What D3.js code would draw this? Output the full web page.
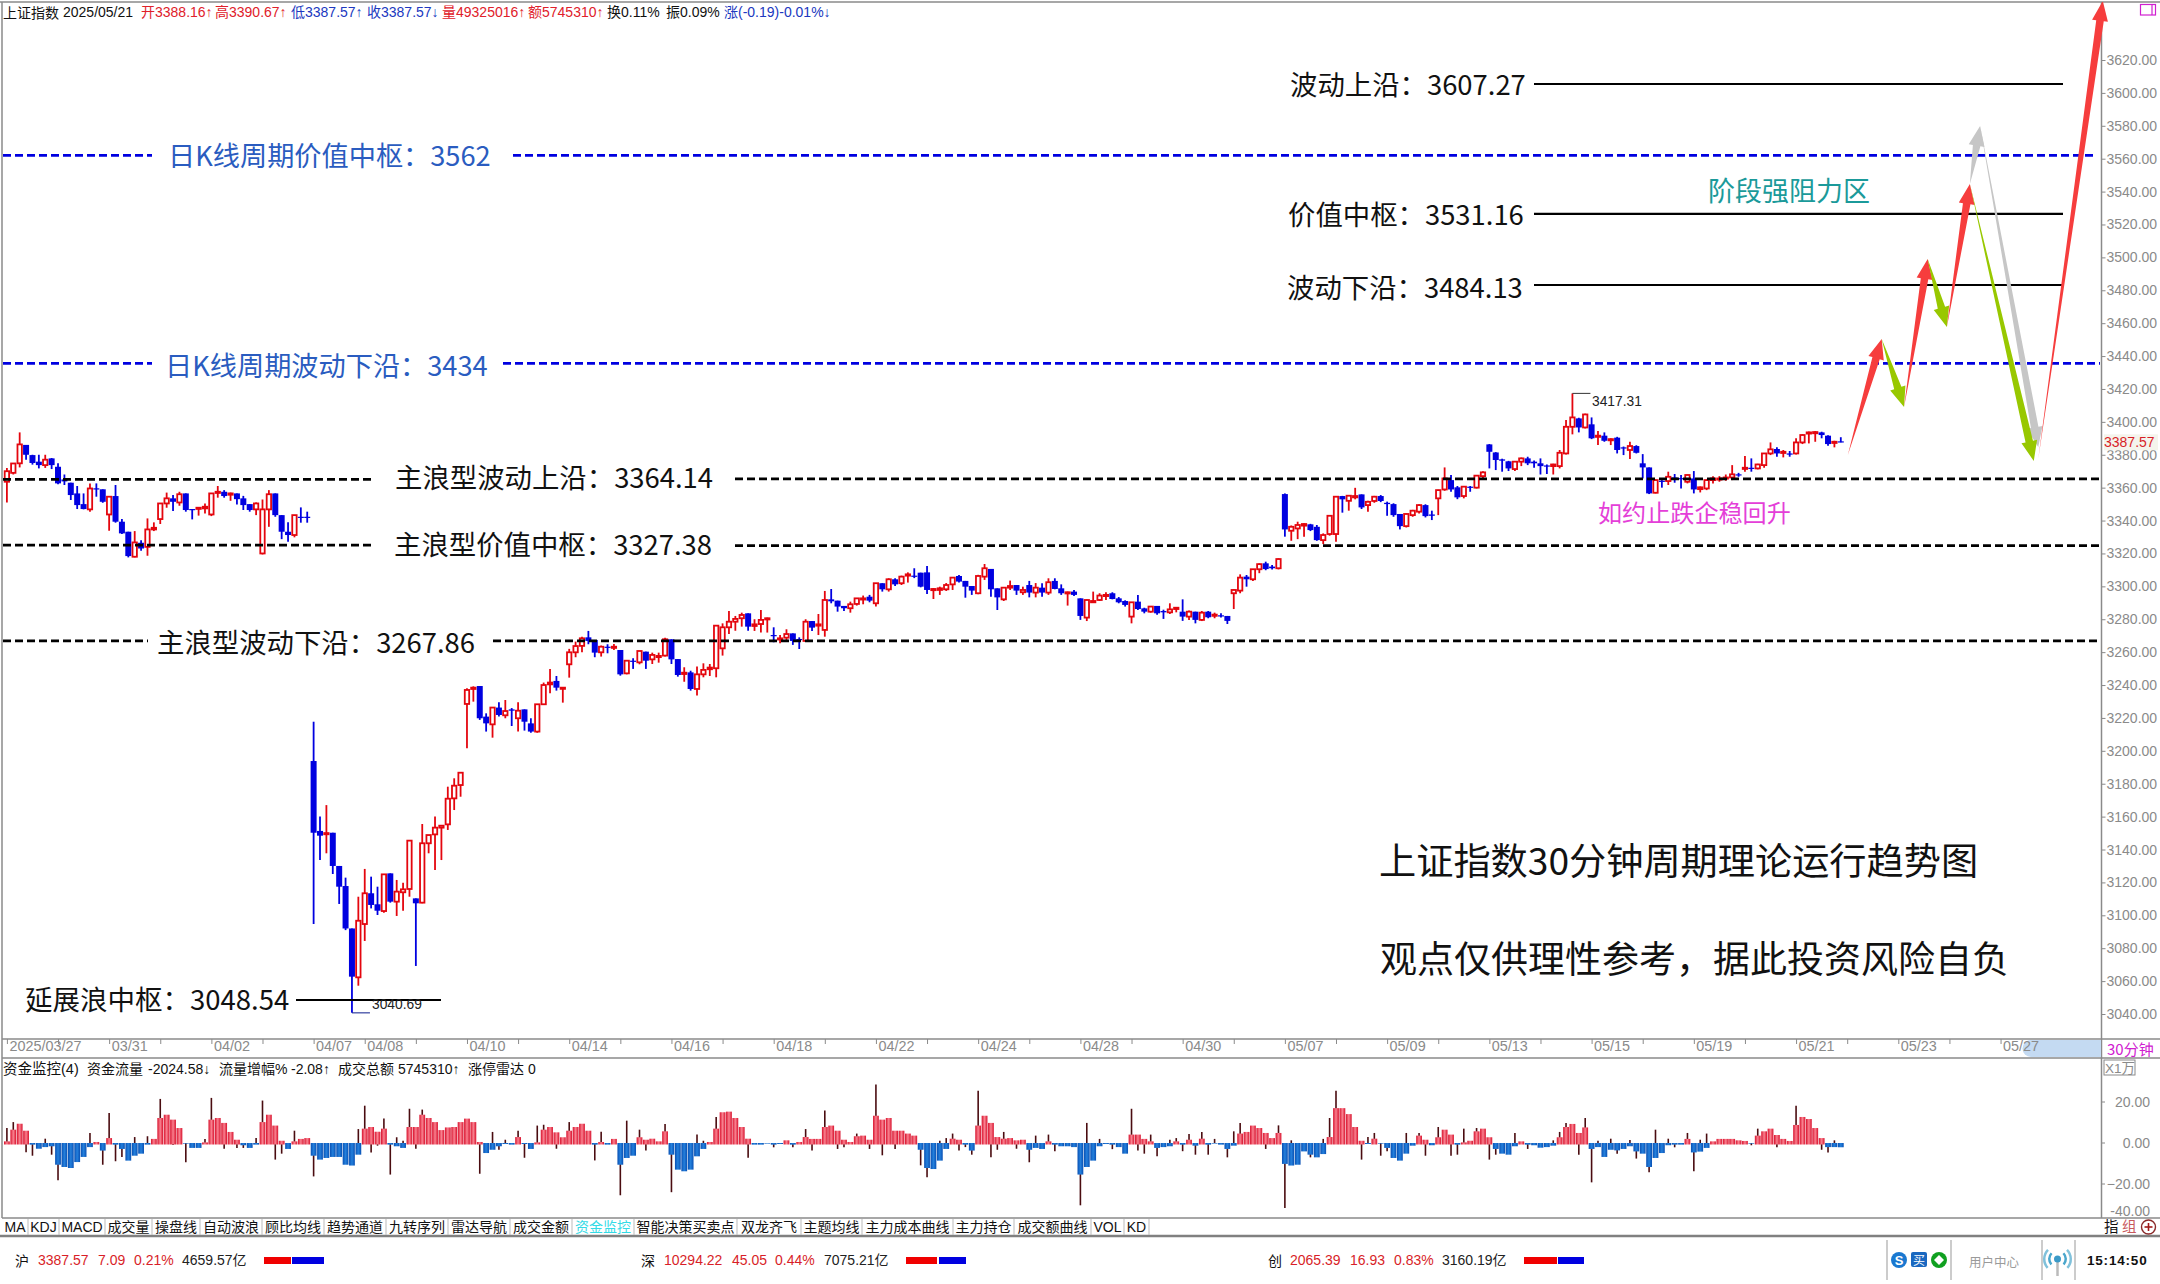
<!DOCTYPE html>
<html lang="zh">
<head>
<meta charset="UTF-8">
<title>上证指数30分钟周期理论运行趋势图</title>
<script src="https://d3js.org/d3.v7.min.js"></script>
<style>
    html, body { margin: 0; height: 100%; overflow: hidden; background: #fff; }
    text { font-family: "Liberation Sans", "Noto Sans CJK SC", sans-serif; }
    .cjk { font-family: "Noto Sans CJK SC", sans-serif; }
</style>
</head>
<body>
<svg id="svg"></svg>
<script>
// one 30 minute bar per entry, 8 bars per trading day
const opens = [
    3363.6,3369,3374.8,3386,3379.8,3375.8,3373.7,3377.8,3372.7,3365,
    3363,3356.5,3350,3346.8,3359.6,3359,3343.7,3354.9,3339.3,3333.2,
    3318,3326.5,3324,3334.6,3340.9,3350.4,3353.5,3351,3356.5,3347,
    3347.2,3347.4,3343.7,3357,3357.5,3355.7,3356.5,3353.5,3350,3346.8,
    3320,3346.8,3356.5,3343.3,3333.2,3331.2,3342.3,3342.3,3193.8,3151.3,
    3149.5,3150.2,3130,3117.8,3092,3062.3,3094.7,3113.4,3106.7,3102.6,
    3125.5,3108.3,3114,3116,3110.3,3107.7,3143.8,3149.2,3153.3,3155.3,
    3171.1,3179.2,3228.5,3237.6,3239.4,3220.8,3216.1,3226.3,3221.6,3225.2,
    3219.8,3225.2,3216.7,3211.7,3228.3,3240.4,3242.5,3238,3252.6,3259.9,
    3263.8,3269,3267.4,3259.9,3263.3,3262.7,3261.3,3247.1,3254.8,3253.8,
    3260.3,3255.6,3257.3,3257.9,3267.8,3255.8,3246.7,3247.7,3237.6,3246.5,
    3249.6,3250.2,3262.3,3275.1,3278.5,3280.6,3283.6,3275.9,3277.1,3280.2,
    3270.4,3267.8,3268.8,3271.4,3268,3266.8,3278.9,3276.1,3273.5,3292.1,
    3291.3,3288.1,3286.7,3289.3,3292.1,3293.7,3289.7,3301.9,3298.2,3304.3,
    3301.9,3306.5,3306.5,3308.3,3308.5,3297.8,3297.8,3298.2,3301.2,3306.3,
    3303.3,3300.2,3295.8,3305.9,3310.6,3298.8,3292.1,3299.2,3300.8,3296.4,
    3300.8,3296.2,3299.2,3296.2,3303.3,3298.8,3296,3296.8,3292.7,3281,
    3290.3,3291.7,3294.2,3295.8,3292.7,3291.1,3281.6,3290.7,3286.6,3284.6,
    3288.1,3285,3284.2,3286.2,3284.6,3281.6,3284.6,3279.6,3284.6,3282.2,
    3282.4,3282,3295.8,3297.4,3305.9,3304.3,3310.4,3314,3312,3311,
    3356.1,3333.8,3335.2,3336.9,3337.7,3336.2,3328.1,3331.8,3331.8,3354.9,
    3352,3354.1,3355.9,3349.4,3351.9,3354.9,3350.8,3350,3344,3336.6,
    3343.3,3345.4,3349.4,3343.7,3353.5,3358.9,3364.6,3360.2,3354.9,3360.6,
    3360,3367,3386.3,3381.4,3377.2,3376,3371.3,3375.8,3377.8,3375.8,
    3374.8,3373.5,3373.1,3373.1,3380.8,3397,3402.1,3396.6,3398.5,3391,
    3391.6,3388.9,3390.4,3384.5,3382.9,3385.3,3374.8,3372.3,3356.9,3364.2,
    3364,3366.2,3365.8,3363.6,3365.6,3359.1,3359.5,3364.6,3365.2,3365.6,
    3366.2,3368.1,3371.5,3372.1,3371.7,3373.7,3380.8,3383.5,3381.4,3380.8,
    3380.8,3387.5,3393,3393.4,3393.6,3391.6,3387.3,3388.16
];
const highs = [
    3372,3375,3393.6,3386,3380,3380,3380,3378,3374.8,3368,
    3363,3361,3356.5,3362.6,3362.6,3359,3354.5,3361.6,3340.9,3333.2,
    3333.6,3328,3341.3,3338.9,3350.4,3357,3355.5,3357.5,3356.5,3347,
    3348,3350.4,3356.5,3361,3358.5,3357,3356.5,3355,3350,3351,
    3352.8,3358.5,3356.5,3343.3,3338.9,3343.3,3348,3345.4,3217.7,3160,
    3167,3150.2,3130,3122.9,3092,3111.3,3128.2,3123.5,3117.4,3124.9,
    3125.5,3121.5,3119.8,3145.4,3110.3,3155.5,3148.8,3160,3154.5,3178.2,
    3183.3,3186.7,3238,3239.2,3239.4,3222.8,3226.3,3229.5,3230.9,3226,
    3229.5,3225.2,3219.8,3228.3,3241.5,3249.8,3245.5,3238.6,3262,3266.4,
    3269.4,3272.9,3267.4,3264,3264.8,3265,3261.3,3254.8,3256.3,3260.7,
    3260.3,3259.7,3259.7,3268.8,3267.8,3255.8,3250.8,3248.7,3251.2,3253.2,
    3252.8,3276.1,3277.5,3285,3282,3284,3283.6,3280,3285.6,3281,
    3275.1,3270.4,3273.9,3271.4,3269,3280,3278.9,3283.2,3297.2,3298.4,
    3291.3,3288.1,3290.7,3292.7,3294.4,3294.8,3301.9,3301.9,3304.9,3304.9,
    3306.5,3308.5,3311,3308.3,3312.4,3299,3299.8,3302,3305.3,3306.9,
    3303.3,3300.2,3307,3313.6,3310.6,3298.8,3299.2,3303.5,3300.8,3299.8,
    3303.3,3302,3301.9,3304.9,3304.9,3301.2,3296.8,3297.8,3292.7,3292,
    3296.8,3295.8,3296.4,3296.4,3293.5,3291.5,3290.3,3294.8,3287,3288,
    3288.1,3285.8,3289.7,3287.3,3292.1,3285.3,3284.6,3285,3285,3284,
    3283.6,3282,3298.2,3307.3,3306.9,3310.6,3314,3315,3313,3317,
    3356.5,3337,3339.3,3338.3,3338,3337.3,3332.2,3342.9,3354.5,3355,
    3355.5,3359.9,3355.9,3352,3355,3355.5,3351.5,3350.5,3344,3344.3,
    3346.5,3349.9,3349.9,3346,3358.7,3372.3,3367.7,3361,3361,3361,
    3367.6,3370,3386.5,3381.6,3377.6,3376.3,3376.2,3378.3,3378.8,3376.5,
    3377.8,3374.1,3374.5,3382.9,3401.1,3417.31,3402.5,3405,3402.7,3394.4,
    3393.6,3390,3390.9,3385,3387.9,3385.8,3380.4,3372.3,3365,3364.6,
    3369.7,3368.3,3367.7,3368,3370.1,3360.7,3365,3367,3367,3368,
    3373.7,3369,3379.2,3377.8,3374.5,3381,3387.5,3384.5,3382.9,3382.3,
    3390,3392.5,3394.1,3394.4,3394,3391.9,3388.5,3390.67
];
const lows = [
    3351,3368,3372.3,3377,3374,3371.7,3372,3371.3,3362,3361.6,
    3352.5,3347,3346.8,3345.4,3354.5,3350.8,3333.8,3338.7,3331.8,3317.6,
    3317.6,3321.6,3318.6,3333.6,3337.9,3347.8,3345.8,3349,3345.4,3340.7,
    3343,3344.3,3342.7,3353.9,3353.9,3352,3349.8,3346.4,3345.4,3343.3,
    3319.4,3336.2,3342.3,3328.7,3327.1,3329.8,3338.7,3338.7,3094.7,3133.6,
    3137.7,3125.1,3106.9,3091,3040.69,3057.2,3084.4,3104.2,3100.2,3101.6,
    3107.7,3099.6,3102.8,3111.3,3069.2,3107.3,3137.7,3127.6,3133.6,3151.9,
    3164,3172.1,3201.5,3229.9,3218.8,3211.7,3208,3220.8,3219.8,3215.1,
    3211.7,3212.3,3211,3211,3227.9,3235,3236.6,3229.3,3244.5,3256.9,
    3259.9,3264.8,3256.9,3257.3,3259.3,3261.3,3245.7,3246.5,3249.8,3252.6,
    3249.8,3252.8,3253.6,3257.3,3252.8,3245.1,3242,3236.6,3233.6,3244.7,
    3245.5,3244.7,3257.9,3271,3273,3275.5,3273,3272.9,3271.9,3271.9,
    3266,3265.4,3267.4,3264.4,3261.9,3266.4,3272.9,3270.4,3269.4,3289.7,
    3284.6,3285,3284,3288.3,3289.1,3290.3,3287.7,3296.8,3296.8,3300.2,
    3300.8,3302.3,3305,3299.4,3295.4,3292.3,3294.8,3297.2,3297.8,3302.3,
    3293.1,3294.8,3295.2,3303.9,3293.7,3285.6,3291.1,3297.8,3294.8,3294.8,
    3293.3,3293.3,3293.7,3294.8,3298.2,3294.8,3288.3,3294.2,3279.6,3278.9,
    3290.3,3291.1,3291.7,3292.1,3289.7,3287.7,3277.5,3285.6,3283.6,3284,
    3282.8,3280.2,3283.2,3284.2,3279,3279.6,3277.5,3278.9,3280.6,3280.6,
    3281,3277.1,3286.2,3295.8,3299.8,3303.3,3308,3309.8,3310.3,3310.3,
    3330.2,3327.7,3328.7,3330.2,3333.6,3327.7,3325.7,3330.8,3327.1,3344.8,
    3346,3352.9,3347,3345.4,3350.8,3351.2,3342.9,3342.3,3334.6,3335.8,
    3342.3,3344.3,3341.9,3340.3,3343.3,3358.1,3357.5,3353,3353.5,3357.5,
    3359.5,3364.6,3371.7,3370.7,3369.7,3370.1,3370.1,3373.1,3373.7,3372.1,
    3368,3368.3,3368,3371.7,3380.2,3392.4,3393.6,3396,3389.5,3385.9,
    3387.9,3385.9,3380.8,3379.8,3377.4,3380.8,3365.6,3356.1,3356.5,3360,
    3361.6,3363,3359.5,3362.6,3356.5,3357.1,3358.5,3362.6,3363.6,3364.2,
    3364.6,3366.6,3369.7,3369.7,3371.1,3372.1,3379.8,3378.8,3378.4,3378.8,
    3380.2,3386.5,3386.9,3387.9,3390,3385.5,3384.5,3387.57
];
const closes = [
    3370,3374.7,3386.3,3380,3375,3373.7,3377,3373.7,3362.6,3363.8,
    3355.5,3349.4,3347,3359.5,3359,3351.4,3354.5,3339.3,3332.2,3318.4,
    3326.7,3323,3334.6,3335.6,3350.4,3353.5,3351.4,3356,3346.4,3346.6,
    3347.8,3348.4,3356.5,3357.5,3354.9,3356.5,3353,3349.4,3346.4,3350.4,
    3346.8,3356,3343.3,3333.2,3331.2,3343.3,3341.9,3341.9,3150.2,3148.4,
    3150,3130,3117.4,3092,3062.7,3096.7,3113.4,3106.3,3102.8,3124.9,
    3108.3,3114.4,3115.8,3145.4,3107.3,3143.8,3148.8,3153.3,3154.5,3170.9,
    3178.8,3186.7,3237,3238.4,3219.8,3216.7,3226.3,3221.8,3224.2,3224.4,
    3224.4,3217.7,3211.7,3228.3,3240,3241.5,3238.4,3238.4,3259.9,3263.7,
    3268.4,3266.8,3259.7,3263.3,3262.7,3263.3,3246.5,3254.8,3254.2,3260.7,
    3254.8,3258.3,3257.7,3267.8,3255.6,3246.1,3247.5,3237.6,3246.5,3249.2,
    3250.6,3276.1,3275.1,3278.5,3280.2,3282.6,3275.5,3276.9,3279.6,3280.6,
    3270,3268.4,3271,3266.8,3267.4,3278.5,3274.9,3276.9,3291.7,3290.9,
    3287.7,3286.7,3289.1,3292.7,3292.7,3291.3,3301.9,3298.2,3304.3,3301.2,
    3305.9,3307.3,3305.9,3299.8,3297.8,3298.4,3298.8,3300.8,3305.3,3302.9,
    3299.8,3297.4,3306.3,3311,3298.2,3293.3,3299.2,3300.2,3297.4,3297.8,
    3296.2,3299.2,3296.2,3302.5,3298.4,3295.8,3296.4,3294.8,3282,3291.7,
    3291.1,3294.4,3294.8,3292.3,3290.3,3288.7,3290.3,3286.2,3284.6,3287.7,
    3283.6,3284.2,3286,3287,3281.6,3284.6,3279.6,3284,3281.2,3282.8,
    3282,3279,3297.8,3305.3,3304.3,3310.4,3313.5,3310.5,3311,3316.6,
    3334.6,3336.2,3337.3,3337.9,3334.2,3328.1,3331.2,3342.9,3354.5,3352.9,
    3355.1,3354.9,3348,3351.4,3354.5,3351.9,3350,3343.3,3336.6,3344,
    3346,3349.4,3342.7,3342.9,3358.5,3365.6,3358.9,3354.1,3360.6,3360.2,
    3367.3,3369.3,3381.8,3376.8,3376.4,3371.7,3375.8,3377.8,3374.8,3374.8,
    3373.1,3373.1,3374.1,3381.2,3397,3402.7,3396.6,3404.5,3390,3391.6,
    3388.5,3389.5,3382.9,3383.9,3385.3,3381.2,3372.3,3356.5,3364.6,3363.6,
    3366.6,3365.6,3365.4,3367.7,3358.9,3360.2,3364.6,3365.6,3365.6,3366.2,
    3368.1,3367.7,3372.1,3371.5,3374.1,3380.8,3383.3,3380.8,3381.8,3380.2,
    3387.5,3392,3393.6,3393.8,3392,3386.5,3387.9,3387.57
];
// money flow panel, unit 1万
const flowBars = [
    .8,6.5,9.4,6,-.8,-2.8,-2,-1.6,-10.6,-11.7,
    -12.2,-9.3,-6.8,-2,.5,-3.7,2.4,-.8,-2.9,-8.6,
    -6.2,-5.2,-.8,2,12.2,13.8,11.4,7.3,-.3,-2.4,
    -2.4,.3,11.4,12.2,9.8,5.4,1.6,-1.1,-2.4,-.8,
    10.2,13.8,8.5,1.1,-2.9,.8,2,2.4,-6.2,-8.1,
    -7.3,-6.8,-6.8,-10.6,-11,-5.7,7,7.8,5.5,7,
    -.8,-1.6,-2.4,7.8,7.8,13.8,12.2,10.2,6.3,7.6,
    7.8,10.2,11.9,10.2,.5,-4.9,-3.3,-1.6,-.5,-.8,
    2.9,-.5,-2.9,.3,6.5,7.8,5.2,2.8,6,7.8,
    9.4,6,-.8,.5,-.8,2,-10.6,-7.3,-6.2,2.8,
    1.6,2.1,.8,5.7,-5.7,-13,-13.8,-13,-6.5,-2.9,
    .5,7,15,15.3,12.2,7.8,2.1,-.8,-.8,-.3,
    -.8,-.5,1.3,-.8,.5,2.9,2,2,7.8,8.5,6,
    1.6,.5,3.3,3.6,1.6,13.3,11.4,12.2,6,6,
    4.6,3.6,-3.3,-12.2,-12.7,-8.6,-2.9,2.1,1.6,-.8,
    -3.7,8.5,13.3,9.8,2.9,2.1,2.4,1.3,1.6,-3.3,
    -2.4,-2.9,.8,-.8,-1.6,-1.6,-2,-15.4,-11.7,-8.6,
    -1.6,-.5,-.8,-2,-5.2,4.1,4.1,2,.8,-2.4,
    -2,-1.6,.8,-.8,1.6,-1.3,2.1,-.8,-.3,-.8,
    -2.9,-1.3,4.6,5.4,8.5,7.3,4.9,2.4,4.9,-10.2,
    -11,-10.6,-4.1,-5.7,-7,-5.4,2.9,17,17,14.1,
    7.8,1.1,-.5,2.1,-.3,-2.4,-7.3,-8.6,-5.2,-1.3,
    3.6,1.6,-1.1,2.8,6.5,4.1,-.8,.3,1.1,5.7,
    7,2.8,-2.9,-5.2,-5.7,-1.6,.8,-.8,-1.1,
    -2.3,-2,-1.3,2.8,7.8,9.3,4.9,7.6,-2.9,-2,
    -6.8,-3.3,-3.6,-2.9,-1.6,-4.1,-5.2,-11.7,-7.3,-4.9,
    -1.1,-.8,-.8,2,-4.6,-4.2,-2.4,.8,2,2,
    2,1.3,1,-.3,3.6,5.7,7,3.9,2,1,
    8.8,12.7,11.7,7.3,2.4,-2,-2,-2.08
];
const flowSpikes = [
    7.3,10.2,0,-4.5,-6.2,0,2.1,-5.7,-18.2,0,
    0,0,0,4.9,0,-10.6,14.6,-8.9,-6.8,0,
    2.9,0,3.3,0,21.5,0,-1,0,-9.4,0,
    0,2,22,0,-2.8,0,-2.4,-2.4,0,2.4,
    20.7,0,-8.1,-5.2,0,6,0,0,-16.3,0,
    0,0,0,0,0,6.8,18.2,-4.6,-1.3,11.9,
    -15.4,2.8,1.1,16.7,-2.8,16.3,0,0,0,0,
    0,0,0,0,-15,0,5.4,-3.3,1.6,0,
    6,-7.2,0,8.5,8.9,0,-2.8,0,10.2,0,
    0,0,-8.5,5.5,0,0,-25.5,10.9,0,6.5,
    -3.6,0,0,9.3,-24,0,0,0,4.1,1.1,
    0,12.7,0,0,0,0,-7.2,0,0,0,
    -2.1,0,0,-2.1,0,6.8,-3.6,0,15.8,0,-2.9,
    -2.1,0,4.6,0,-2.9,28.5,-6,0,-2.9,0,
    0,0,-10.9,-16.7,0,1.1,2.4,4.6,-3.6,-2,
    -5.7,25.5,0,-7,-3.3,5.4,0,-2.8,0,-9.4,
    3.6,0,4.1,-4,0,0,0,-30.4,9.8,0,
    2,0,-3,0,0,16.7,-3.6,-5.2,4.1,-6.5,
    0,1.6,2.4,-4,4.4,-5.7,5.4,-5.7,2,0,
    -7,5.7,9.8,0,0,0,-2.9,0,8.6,-31.7,
    1.3,0,0,-7,0,2,12.2,25.5,0,0,
    0,-8.1,2.9,4.9,-6.2,-4,0,0,4.9,0,
    4.9,-6.2,0,7.8,0,-6.2,-5.7,7,0,7.3,
    0,-8.1,-5.7,0,0,4.9,0,-2.9,0,
    0,0,1.3,5.4,9.8,0,-5.7,12.2,-19.2,1.1,
    0,2.1,-5.2,0,1.5,-7.6,0,-14.3,6.5,0,
    2.1,-2.1,0,4.9,-13.8,1.6,4.6,0,0,0,
    0,0,0,-1.1,7,0,0,-2.1,0,0,
    18.2,0,0,0,-3.3,-4.6,1.3,0
];
// one entry per day tick, blank ones are ticks without a label
const dayLabels = ['2025/03/27','','03/31','','04/02','','04/07','04/08','','04/10','','04/14','','04/16','','04/18','','04/22','','04/24','','04/28','','04/30','','05/07','','05/09','','05/13','','05/15','','05/19','','05/21','','05/23','','05/27'];
const barsPerDay = 8;

const priceTicks = d3.range(3040, 3621, 20);
const flowTicks = [20, 0, -20];
const tabNames = ['MA','KDJ','MACD','成交量','操盘线','自动波浪','顾比均线','趋势通道','九转序列','雷达导航','成交金额','资金监控','智能决策买卖点','双龙齐飞','主题均线','主力成本曲线','主力持仓','成交额曲线','VOL','KD'];
const tabEdges = [2,28,59,105,152,200,262,324,386,448,510,572,634,737,801,862,953,1014,1091,1124,1149];

// levels as they sit on the picture (the hand typed labels differ a little)
const waveLevels = [3365, 3325, 3266.8];
const dailyLevels = [3562, 3435.6];
const targetLevels = [3605.4, 3526.4, 3483.2];
const extensionLevel = 3048.5;

// forecast arrows, [bar, price] of start and end
const arrowPaths = [
    {from: [307.2, 3544.6], to: [308.8, 3579.9], color: '#c6c6c6'},
    {from: [308.8, 3579.9], to: [317.9, 3384.7], color: '#c6c6c6'},
    {from: [288.1, 3379.9], to: [293.4, 3450.4], color: '#f63d3d'},
    {from: [293.4, 3450.4], to: [296.9, 3409], color: '#98c800'},
    {from: [296.9, 3409], to: [300.6, 3499], color: '#f63d3d'},
    {from: [300.6, 3499], to: [303.6, 3457.7], color: '#98c800'},
    {from: [303.6, 3457.7], to: [307.2, 3544.6], color: '#f63d3d'},
    {from: [307.2, 3544.6], to: [317.2, 3376.2], color: '#98c800'},
    {from: [317.9, 3377.4], to: [328, 3655.9], color: '#f63d3d'}
];

const svg = d3.select('#svg').attr('width', 2160).attr('height', 1284);
svg.append('rect').attr('width', 2160).attr('height', 1284).attr('fill', '#fff');
const defs = svg.append('defs');
defs.append('clipPath').attr('id', 'plot').append('rect').attr('x', 0).attr('y', 2).attr('width', 2140).attr('height', 1036);
function stripes(id, edge, mid) {
    const g = defs.append('linearGradient').attr('id', id);
    g.append('stop').attr('offset', '0%').attr('stop-color', edge);
    g.append('stop').attr('offset', '50%').attr('stop-color', mid);
    g.append('stop').attr('offset', '100%').attr('stop-color', edge);
}
stripes('flowUp', '#d8102c', '#f98290');
stripes('flowDown', '#0850b4', '#2480dc');

const x = d3.scaleLinear().domain([0, 287]).range([6.9, 1840.8]);
const y = d3.scaleLinear().domain([3620, 3040]).range([60, 1014]);
const yFlow = d3.scaleLinear().domain([20, -20]).range([1102, 1184]);

const RED = '#e4060e', BLUE = '#0000e0', GREY = '#8a8a8a';

function text(s, px, py, size, fill, opts) {
    opts = opts || {};
    return svg.append('text').attr('x', px).attr('y', py).attr('font-size', size).attr('fill', fill)
        .attr('dominant-baseline', 'central').attr('text-anchor', opts.anchor || 'start')
        .attr('class', opts.cls || null).attr('font-weight', opts.weight || null).text(s);
}
function hline(px1, px2, py, color, w, dash) {
    svg.append('line').attr('x1', px1).attr('x2', px2).attr('y1', py).attr('y2', py)
        .attr('stroke', color).attr('stroke-width', w).attr('stroke-dasharray', dash || null);
}
function vline(px, py1, py2, color, w) {
    svg.append('line').attr('x1', px).attr('x2', px).attr('y1', py1).attr('y2', py2)
        .attr('stroke', color).attr('stroke-width', w);
}

// frame
hline(0, 2160, 2, GREY, 1.5);
vline(2, 2, 1218, GREY, 1.5);
vline(2101.5, 2, 1218, GREY, 1.5);

// candles
const indexes = d3.range(closes.length);
const isUp = i => closes[i] > opens[i];
const candles = svg.append('g');
candles.selectAll('line').data(indexes).join('line')
    .attr('x1', i => x(i)).attr('x2', i => x(i))
    .attr('y1', i => y(highs[i])).attr('y2', i => y(lows[i]))
    .attr('stroke', i => isUp(i) ? RED : BLUE).attr('stroke-width', 1.8);
candles.selectAll('rect').data(indexes).join('rect')
    .attr('x', i => x(i) - (isUp(i) ? 2.2 : 3))
    .attr('width', i => isUp(i) ? 4.4 : 6)
    .attr('y', i => y(Math.max(opens[i], closes[i])))
    .attr('height', i => Math.max(Math.abs(y(opens[i]) - y(closes[i])), 1.2))
    .attr('fill', i => isUp(i) ? '#fff' : BLUE)
    .attr('stroke', i => isUp(i) ? RED : 'none').attr('stroke-width', 1.8);

// level lines, broken where the hand written label sits
const blackDash = '8 4', blueDash = '8 4';
hline(3, 373, y(waveLevels[0]), '#000', 2.7, blackDash);
hline(735, 2100, y(waveLevels[0]) - 0.5, '#000', 2.7, blackDash);
hline(3, 373, y(waveLevels[1]), '#000', 2.7, blackDash);
hline(735, 2100, y(waveLevels[1]) + 0.5, '#000', 2.7, blackDash);
hline(3, 148, y(waveLevels[2]), '#000', 2.7, blackDash);
hline(493, 2100, y(waveLevels[2]), '#000', 2.7, blackDash);
hline(3, 152, y(dailyLevels[0]), BLUE, 2.7, blueDash);
hline(513, 2095, y(dailyLevels[0]), BLUE, 2.7, blueDash);
hline(3, 152, y(dailyLevels[1]), BLUE, 2.7, blueDash);
hline(503, 2100, y(dailyLevels[1]), BLUE, 2.7, blueDash);
targetLevels.forEach(v => hline(1534, 2063, y(v), '#000', 2.2));
hline(296, 441, y(extensionLevel), '#000', 2.2);

// price axis
const yAxis = d3.axisRight(y).tickValues(priceTicks).tickFormat(d3.format('.2f')).tickSize(4).tickPadding(1);
const yg = svg.append('g').attr('transform', 'translate(2101.5,0)').call(yAxis);
yg.select('.domain').remove();
yg.selectAll('line').attr('stroke', GREY);
yg.selectAll('text').attr('fill', GREY).attr('font-size', 14).attr('font-family', '"Liberation Sans"');

// last price tag
const lastClose = closes[closes.length - 1];
svg.append('rect').attr('x', 2104).attr('y', y(lastClose) - 8).attr('width', 54).attr('height', 16).attr('fill', '#f4f4ec');
text(d3.format('.2f')(lastClose), 2104, y(lastClose), 14, '#d81e28');

// high and low marks
const hiBar = closes.length - 43, loBar = 54;
hline(x(hiBar), x(hiBar) + 18, y(highs[hiBar]), '#333', 1);
text(d3.format('.2f')(highs[hiBar]), 1592, y(highs[hiBar]) + 8, 13.8, '#222');
hline(x(loBar), x(loBar) + 18, y(lows[loBar]), '#0a1a8c', 1);
text(d3.format('.2f')(lows[loBar]), 372, y(lows[loBar]) - 8, 13.8, '#222');

// hand written labels
const ann = [
    ['波动上沿：3607.27', 1290, 82.5, 27.4, '#111'],
    ['价值中枢：3531.16', 1288, 212.5, 27.4, '#111'],
    ['波动下沿：3484.13', 1287, 285.5, 27.4, '#111'],
    ['阶段强阻力区', 1708, 189.5, 27, '#1b9a9a'],
    ['日K线周期价值中枢：3562', 168, 153.5, 27.2, '#2a5cc0'],
    ['日K线周期波动下沿：3434', 165, 363.5, 27.2, '#2a5cc0'],
    ['主浪型波动上沿：3364.14', 395, 475.5, 27.4, '#111'],
    ['主浪型价值中枢：3327.38', 394, 542.5, 27.4, '#111'],
    ['主浪型波动下沿：3267.86', 157, 640.5, 27.4, '#111'],
    ['如约止跌企稳回升', 1598, 511.5, 24.1, '#e43fd8'],
    ['上证指数30分钟周期理论运行趋势图', 1379, 858.5, 37.2, '#111'],
    ['观点仅供理性参考，据此投资风险自负', 1380, 956.5, 37, '#111'],
    ['延展浪中枢：3048.54', 25, 997.5, 27.5, '#111']
];
ann.forEach(a => text(a[0], a[1], a[2], a[3], a[4], {cls: 'cjk'}));

// forecast arrows
function arrowShape(d) {
    const x0 = x(d.from[0]), y0 = y(d.from[1]), x1 = x(d.to[0]), y1 = y(d.to[1]);
    const len = Math.hypot(x1 - x0, y1 - y0);
    const ux = (x1 - x0) / len, uy = (y1 - y0) / len, nx = -uy, ny = ux;
    const head = 20, headW = 8, shaftW = 3.8;
    const bx = x1 - ux * head, by = y1 - uy * head;
    return [[x0, y0], [bx + nx * shaftW, by + ny * shaftW], [bx + nx * headW, by + ny * headW], [x1, y1],
        [bx - nx * headW, by - ny * headW], [bx - nx * shaftW, by - ny * shaftW]].join(' ');
}
svg.append('g').attr('clip-path', 'url(#plot)').selectAll('polygon').data(arrowPaths).join('polygon')
    .attr('points', arrowShape).attr('fill', d => d.color);

// header line
text('上证指数', 3, 12, 14, '#111', {cls: 'cjk'});
text('2025/05/21', 63, 12, 14, '#111');
[['开3388.16↑', 141, '#e0202a'], ['高3390.67↑', 215, '#e0202a'], ['低3387.57↑', 291, '#2038c0'], ['收3387.57↓', 367, '#2038c0'],
    ['量49325016↑', 442, '#e0202a'], ['额5745310↑', 528, '#e0202a'], ['换0.11%', 607, '#111'], ['振0.09%', 666, '#111'], ['涨(-0.19)-0.01%↓', 724, '#2038c0']]
    .forEach(h => text(h[0], h[1], 12, 14, h[2]));
svg.append('rect').attr('x', 2140.5).attr('y', 4.5).attr('width', 15).attr('height', 10.5).attr('fill', 'none').attr('stroke', '#d020d0').attr('stroke-width', 1.2);
vline(2152, 4.5, 15, '#d020d0', 1.2);

// date strip
hline(2, 2160, 1039, GREY, 1.5);
hline(2, 2160, 1058, GREY, 1.5);
svg.append('path').attr('d', 'M2031,1040H2101V1057H2031A8.5,8.5 0 0 1 2031,1040Z').attr('fill', '#c4daf2');
const dayTicks = dayLabels.map((d, i) => i * barsPerDay);
const xAxis = d3.axisBottom(x).tickValues(dayTicks).tickSize(5)
    .tickFormat((d, i) => dayLabels[i]);
const xg = svg.append('g').attr('transform', 'translate(0,1039)').call(xAxis);
xg.select('.domain').remove();
xg.selectAll('line').attr('stroke', GREY);
xg.selectAll('text').attr('fill', GREY).attr('font-size', 14.4).attr('font-family', '"Liberation Sans"')
    .attr('text-anchor', 'start').attr('x', 2).attr('y', 2).attr('dy', '0.71em');
text('30分钟', 2107, 1048, 15, '#d020d0', {cls: 'cjk'});

// money flow panel
text('资金监控(4)', 3, 1069, 14.5, '#111');
[['资金流量', 87], ['-2024.58↓', 148], ['流量增幅%', 219], ['-2.08↑', 291], ['成交总额', 338], ['5745310↑', 398], ['涨停雷达', 468], ['0', 528]]
    .forEach(h => text(h[0], h[1], 1069, 14, '#111'));
const flow = svg.append('g');
flow.selectAll('line').data(indexes.filter(i => flowSpikes[i] !== 0)).join('line')
    .attr('x1', i => x(i)).attr('x2', i => x(i))
    .attr('y1', yFlow(0)).attr('y2', i => yFlow(flowSpikes[i]))
    .attr('stroke', '#4a0c10').attr('stroke-width', 1.6);
flow.selectAll('rect').data(indexes).join('rect')
    .attr('x', i => x(i) - 2.9).attr('width', 5.8)
    .attr('y', i => yFlow(Math.max(flowBars[i], 0)))
    .attr('height', i => Math.abs(yFlow(flowBars[i]) - yFlow(0)) + (flowBars[i] > 0 ? 1.5 : 0))
    .attr('fill', i => flowBars[i] > 0 ? 'url(#flowUp)' : 'url(#flowDown)');
const flowAxis = d3.axisLeft(yFlow).tickValues(flowTicks).tickFormat(d3.format('.2f')).tickSize(0);
const fg = svg.append('g').attr('transform', 'translate(2150,0)').call(flowAxis);
fg.select('.domain').remove();
fg.selectAll('text').attr('fill', GREY).attr('font-size', 14).attr('font-family', '"Liberation Sans"').attr('x', 0);
flowTicks.forEach(v => hline(2101.5, 2105, yFlow(v), GREY, 1));
text('-40.00', 2150, 1211, 14, GREY, {anchor: 'end'});
svg.append('rect').attr('x', 2104).attr('y', 1060).attr('width', 31).attr('height', 15).attr('fill', 'none').attr('stroke', GREY);
text('X1万', 2105, 1068, 13.5, GREY);

// tab bar
hline(2, 2160, 1218, GREY, 1.5);
hline(0, 2160, 1236, '#808080', 2.5);
tabNames.forEach((t, i) => {
    text(t, (tabEdges[i] + tabEdges[i + 1]) / 2, 1227, 14, t === '资金监控' ? '#33dbe6' : '#111', {anchor: 'middle'});
    vline(tabEdges[i + 1], 1219, 1235, '#bbb', 1);
});
text('指', 2104, 1227, 14.5, '#111');
text('组', 2122, 1227, 14.5, '#c8585c');
svg.append('circle').attr('cx', 2148.5).attr('cy', 1227).attr('r', 7).attr('fill', '#fff').attr('stroke', '#8a2a2a').attr('stroke-width', 1.4);
hline(2144.5, 2152.5, 1227, '#a01818', 1.6);
vline(2148.5, 1223, 1231, '#a01818', 1.6);

// status bar
const statusRows = [
    {tag: '沪', tx: 15, v: [['3387.57', 38], ['7.09', 98], ['0.21%', 134]], amt: ['4659.57亿', 182], red: [264, 291], blue: [292, 324]},
    {tag: '深', tx: 641, v: [['10294.22', 664], ['45.05', 732], ['0.44%', 775]], amt: ['7075.21亿', 824], red: [906, 937], blue: [939, 966]},
    {tag: '创', tx: 1268, v: [['2065.39', 1290], ['16.93', 1350], ['0.83%', 1394]], amt: ['3160.19亿', 1442], red: [1524, 1557], blue: [1558, 1584]}
];
statusRows.forEach(r => {
    text(r.tag, r.tx, 1260, 14, '#111', {cls: 'cjk'});
    r.v.forEach(v => text(v[0], v[1], 1260, 14, '#d81e28'));
    text(r.amt[0], r.amt[1], 1260, 14, '#222');
    svg.append('rect').attr('x', r.red[0]).attr('width', r.red[1] - r.red[0]).attr('y', 1257).attr('height', 7).attr('fill', '#f00000');
    svg.append('rect').attr('x', r.blue[0]).attr('width', r.blue[1] - r.blue[0]).attr('y', 1257).attr('height', 7).attr('fill', '#0000e0');
});
[1887, 1951, 2042, 2075].forEach(px => vline(px, 1240, 1280, '#999', 1));
svg.append('circle').attr('cx', 1899).attr('cy', 1260).attr('r', 8).attr('fill', '#1a78d0');
text('S', 1899, 1260, 13, '#fff', {anchor: 'middle', weight: 'bold'});
svg.append('rect').attr('x', 1911).attr('y', 1252).attr('width', 16).attr('height', 15).attr('rx', 2).attr('fill', '#1a68c0');
text('买', 1919, 1259.5, 12, '#fff', {anchor: 'middle', cls: 'cjk'});
svg.append('circle').attr('cx', 1939).attr('cy', 1260).attr('r', 8).attr('fill', '#10a020');
svg.append('polygon').attr('points', '1939,1255 1944,1260 1939,1265 1934,1260').attr('fill', '#fff');
text('用户中心', 1969, 1261, 12.5, '#9a9a9a', {cls: 'cjk'});
vline(2057.5, 1260, 1276, '#bbb', 2.5);
svg.append('circle').attr('cx', 2057.5).attr('cy', 1259).attr('r', 3.5).attr('fill', '#3a9ac8');
[[7, 1], [12, 0.7]].forEach(a => {
    const arc = d3.arc().innerRadius(a[0]).outerRadius(a[0] + 2.5);
    [[-2.3, -0.8], [0.8, 2.3]].forEach(s => {
        svg.append('path').attr('transform', 'translate(2057.5,1259)').attr('d', arc({startAngle: s[0], endAngle: s[1]}))
            .attr('fill', '#4aa6cc').attr('opacity', a[1]);
    });
});
svg.append('text').attr('x', 2087).attr('y', 1260).attr('dominant-baseline', 'central').attr('font-size', 13.5)
    .attr('font-weight', 'bold').attr('font-family', '"Liberation Mono"').attr('letter-spacing', 0.8).attr('fill', '#111').text('15:14:50');
</script>
</body>
</html>
